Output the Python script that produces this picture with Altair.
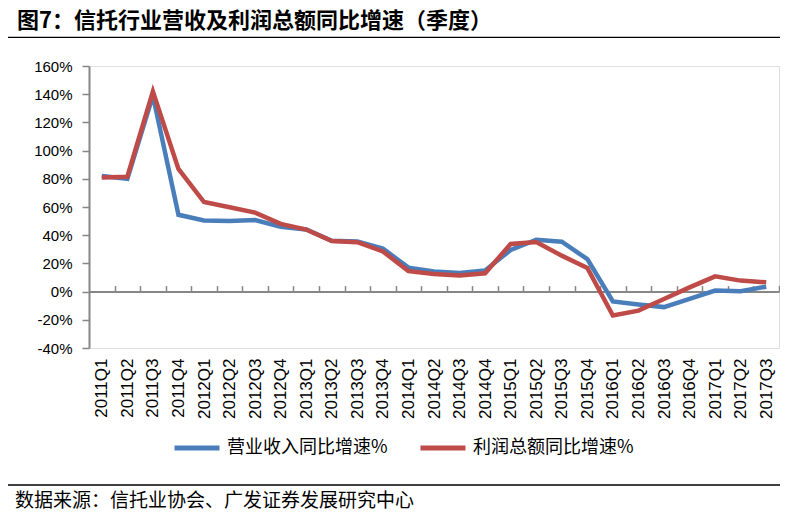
import altair as alt
import pandas as pd

quarters = ["2011Q1", "2011Q2", "2011Q3", "2011Q4",
            "2012Q1", "2012Q2", "2012Q3", "2012Q4",
            "2013Q1", "2013Q2", "2013Q3", "2013Q4",
            "2014Q1", "2014Q2", "2014Q3", "2014Q4",
            "2015Q1", "2015Q2", "2015Q3", "2015Q4",
            "2016Q1", "2016Q2", "2016Q3", "2016Q4",
            "2017Q1", "2017Q2", "2017Q3"]
revenue_growth = [82, 80, 139, 54.5, 50.5, 50, 50.8, 46,
                  44, 36, 35.5, 30.5, 17, 14.2, 13.2, 15,
                  29.5, 36.8, 35.4, 23, -7, -9.2, -11, -5.2,
                  0.7, 0.2, 3.5]
profit_growth = [81, 81.5, 142, 87, 63.5, 59.8, 56, 48,
                 44, 35.8, 35, 28.5, 14.5, 12.5, 11.5, 13,
                 33.8, 35.2, 25.5, 16.8, -17, -13.5, -5.2, 3,
                 10.8, 7.8, 6.6]
series_names = ["营业收入同比增速%", "利润总额同比增速%"]
series_colors = ["#4A7EBB", "#BE4B48"]
y_ticks = [-40, -20, 0, 20, 40, 60, 80, 100, 120, 140, 160]
title_text = "图7：信托行业营收及利润总额同比增速（季度）"
source_text = "数据来源：信托业协会、广发证券发展研究中心"

W, H = 690, 282
step = W / len(quarters)
zero_from_top = H * (160 - 0) / 200.0

CJK = "Noto Sans CJK SC"
LAT = "Liberation Sans"

df = pd.DataFrame({"q": quarters, "rev": revenue_growth, "profit": profit_growth})

xscale = alt.Scale(type="point", padding=0.5)
yscale = alt.Scale(domain=[-40, 160], nice=False, zero=False)
cscale = alt.Scale(domain=series_names, range=series_colors)

y_axis = alt.Axis(title=None, values=y_ticks, grid=False,
                  labelExpr="datum.value + '%'", labelOverlap=False,
                  labelFont=LAT, labelFontSize=15, labelColor="#000000",
                  labelPadding=10, tickSize=7, tickColor="#868686",
                  tickWidth=1.5, domainColor="#868686", domainWidth=2)

x_main = alt.X("q:O", sort=quarters, scale=xscale,
               axis=alt.Axis(title=None, orient="bottom", labelAngle=-90,
                             labelFont=LAT, labelFontSize=17, labelColor="#000000",
                             labelPadding=10, domain=False, ticks=False,
                             labelOverlap=False))

legend = alt.Legend(title=None, orient="none", legendX=83, legendY=357,
                    direction="horizontal", columns=2, columnPadding=22,
                    symbolType="stroke", symbolSize=2025, symbolStrokeWidth=5,
                    labelFont=CJK, labelFontSize=18, labelColor="#000000",
                    labelOffset=5, labelLimit=0, padding=0)

base = alt.Chart(df)

rev_line = base.transform_calculate(series=f"'{series_names[0]}'").mark_line(strokeWidth=4.5).encode(
    x=x_main,
    y=alt.Y("rev:Q", scale=yscale, axis=y_axis),
    color=alt.Color("series:N", scale=cscale, legend=legend),
)
profit_line = base.transform_calculate(series=f"'{series_names[1]}'").mark_line(strokeWidth=4.5).encode(
    x=alt.X("q:O", sort=quarters, scale=xscale, axis=None),
    y=alt.Y("profit:Q", scale=yscale, axis=y_axis),
    color=alt.Color("series:N", scale=cscale, legend=legend),
)

zero_axis = base.transform_calculate(zero="0").mark_line(opacity=0).encode(
    x=alt.X("q:O", sort=quarters, scale=xscale,
            axis=alt.Axis(title=None, orient="top", offset=-zero_from_top,
                          labels=False, ticks=True, tickSize=6,
                          tickOffset=step / 2, tickColor="#868686", tickWidth=1.5,
                          domain=True, domainColor="#868686", domainWidth=2)),
    y=alt.Y("zero:Q", scale=yscale, axis=y_axis),
)

one = pd.DataFrame({"t": [title_text]})
title = alt.Chart(one).mark_text(align="left", baseline="middle", font=CJK,
                                 fontSize=22, fontWeight="bold", color="#000000").encode(
    text="t:N", x=alt.value(-72), y=alt.value(-45))
top_rule = alt.Chart(one).mark_rule(color="#000000", strokeWidth=1.3).encode(
    x=alt.value(-81), x2=alt.value(699), y=alt.value(-28.7))

src = pd.DataFrame({"t": [source_text]})
source = alt.Chart(src).mark_text(align="left", baseline="middle", font=CJK,
                                  fontSize=19, color="#000000").encode(
    text="t:N", x=alt.value(-74), y=alt.value(435))
bottom_rule = alt.Chart(src).mark_rule(color="#000000", strokeWidth=1.3).encode(
    x=alt.value(-81), x2=alt.value(699), y=alt.value(419))

chart = alt.layer(
    zero_axis, rev_line, profit_line, title, top_rule, source, bottom_rule
).resolve_axis(x="independent").properties(
    width=W, height=H,
    autosize=alt.AutoSizeParams(type="none"),
    padding={"left": 81, "top": 58, "right": 1, "bottom": 165},
).configure_view(stroke=None).configure(background="#ffffff")

chart.save("out.html", embed_options={"renderer": "svg", "actions": False})
